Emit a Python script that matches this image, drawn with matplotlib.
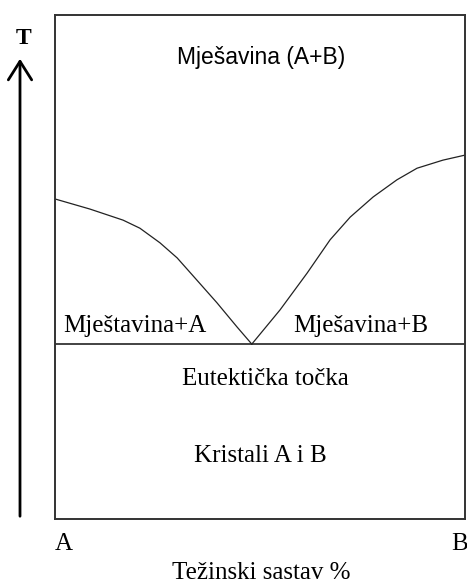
import matplotlib
matplotlib.use("Agg")
import matplotlib.pyplot as plt

# liquidus curves (composition % B, temperature in arbitrary units)
left_x = [0, 8.5, 16.6, 20.7, 25.6, 29.8, 34.6, 39.5, 44.4, 48.0]
left_t = [63.5, 61.5, 59.3, 57.7, 54.8, 51.8, 47.4, 42.9, 38.1, 34.7]
right_x = [48.0, 54.9, 61.5, 67.1, 72.0, 77.6, 83.4, 88.3, 94.6, 100]
right_t = [34.7, 41.5, 48.8, 55.4, 59.9, 63.9, 67.3, 69.6, 71.2, 72.2]
eutectic_t = 34.7

W, H = 467, 583
fig = plt.figure(figsize=(W / 100, H / 100), dpi=100)
ax = fig.add_axes([55 / W, (H - 519) / H, 410 / W, 504 / H])
ax.set_xlim(0, 100)
ax.set_ylim(0, 100)
ax.set_xticks([])
ax.set_yticks([])
for s in ax.spines.values():
    s.set_linewidth(1.4)
    s.set_color("#333333")

ax.plot(left_x, left_t, color="#222222", lw=0.9)
ax.plot(right_x, right_t, color="#222222", lw=0.9)
ax.axhline(eutectic_t, color="#222222", lw=1.2)

serif = "Liberation Serif"
fs = 18
ax.text(50.2, 90.3, "Mješavina (A+B)", family="Liberation Sans", fontsize=16.5,
        ha="center", va="baseline")
ax.text(2.0, 37.1, "Mještavina+A", family=serif, fontsize=fs, va="baseline")
ax.text(58.0, 37.1, "Mješavina+B", family=serif, fontsize=fs, va="baseline")
ax.text(51.2, 26.6, "Eutektička točka", family=serif, fontsize=fs,
        ha="center", va="baseline")
ax.text(50.2, 11.3, "Kristali A i B", family=serif, fontsize=fs,
        ha="center", va="baseline")
ax.text(0, -6.15, "A", family=serif, fontsize=fs, va="baseline", clip_on=False)
ax.text(96.6, -6.15, "B", family=serif, fontsize=fs, va="baseline", clip_on=False)
ax.text(50.2, -12.0, "Težinski sastav %", family=serif, fontsize=fs,
        ha="center", va="baseline", clip_on=False)

# temperature arrow at the left
fig.patches.append(matplotlib.patches.FancyArrowPatch(
    (20 / W, 1 - 519 / H), (20 / W, 1 - 56 / H), transform=fig.transFigure,
    arrowstyle="->,head_length=0.95,head_width=0.6", lw=2, color="black",
    mutation_scale=14))
fig.text(24 / W, 1 - 44 / H, "T", family=serif, fontsize=17, ha="center",
         va="baseline", fontweight="bold")

fig.savefig("out.png", dpi=100)
